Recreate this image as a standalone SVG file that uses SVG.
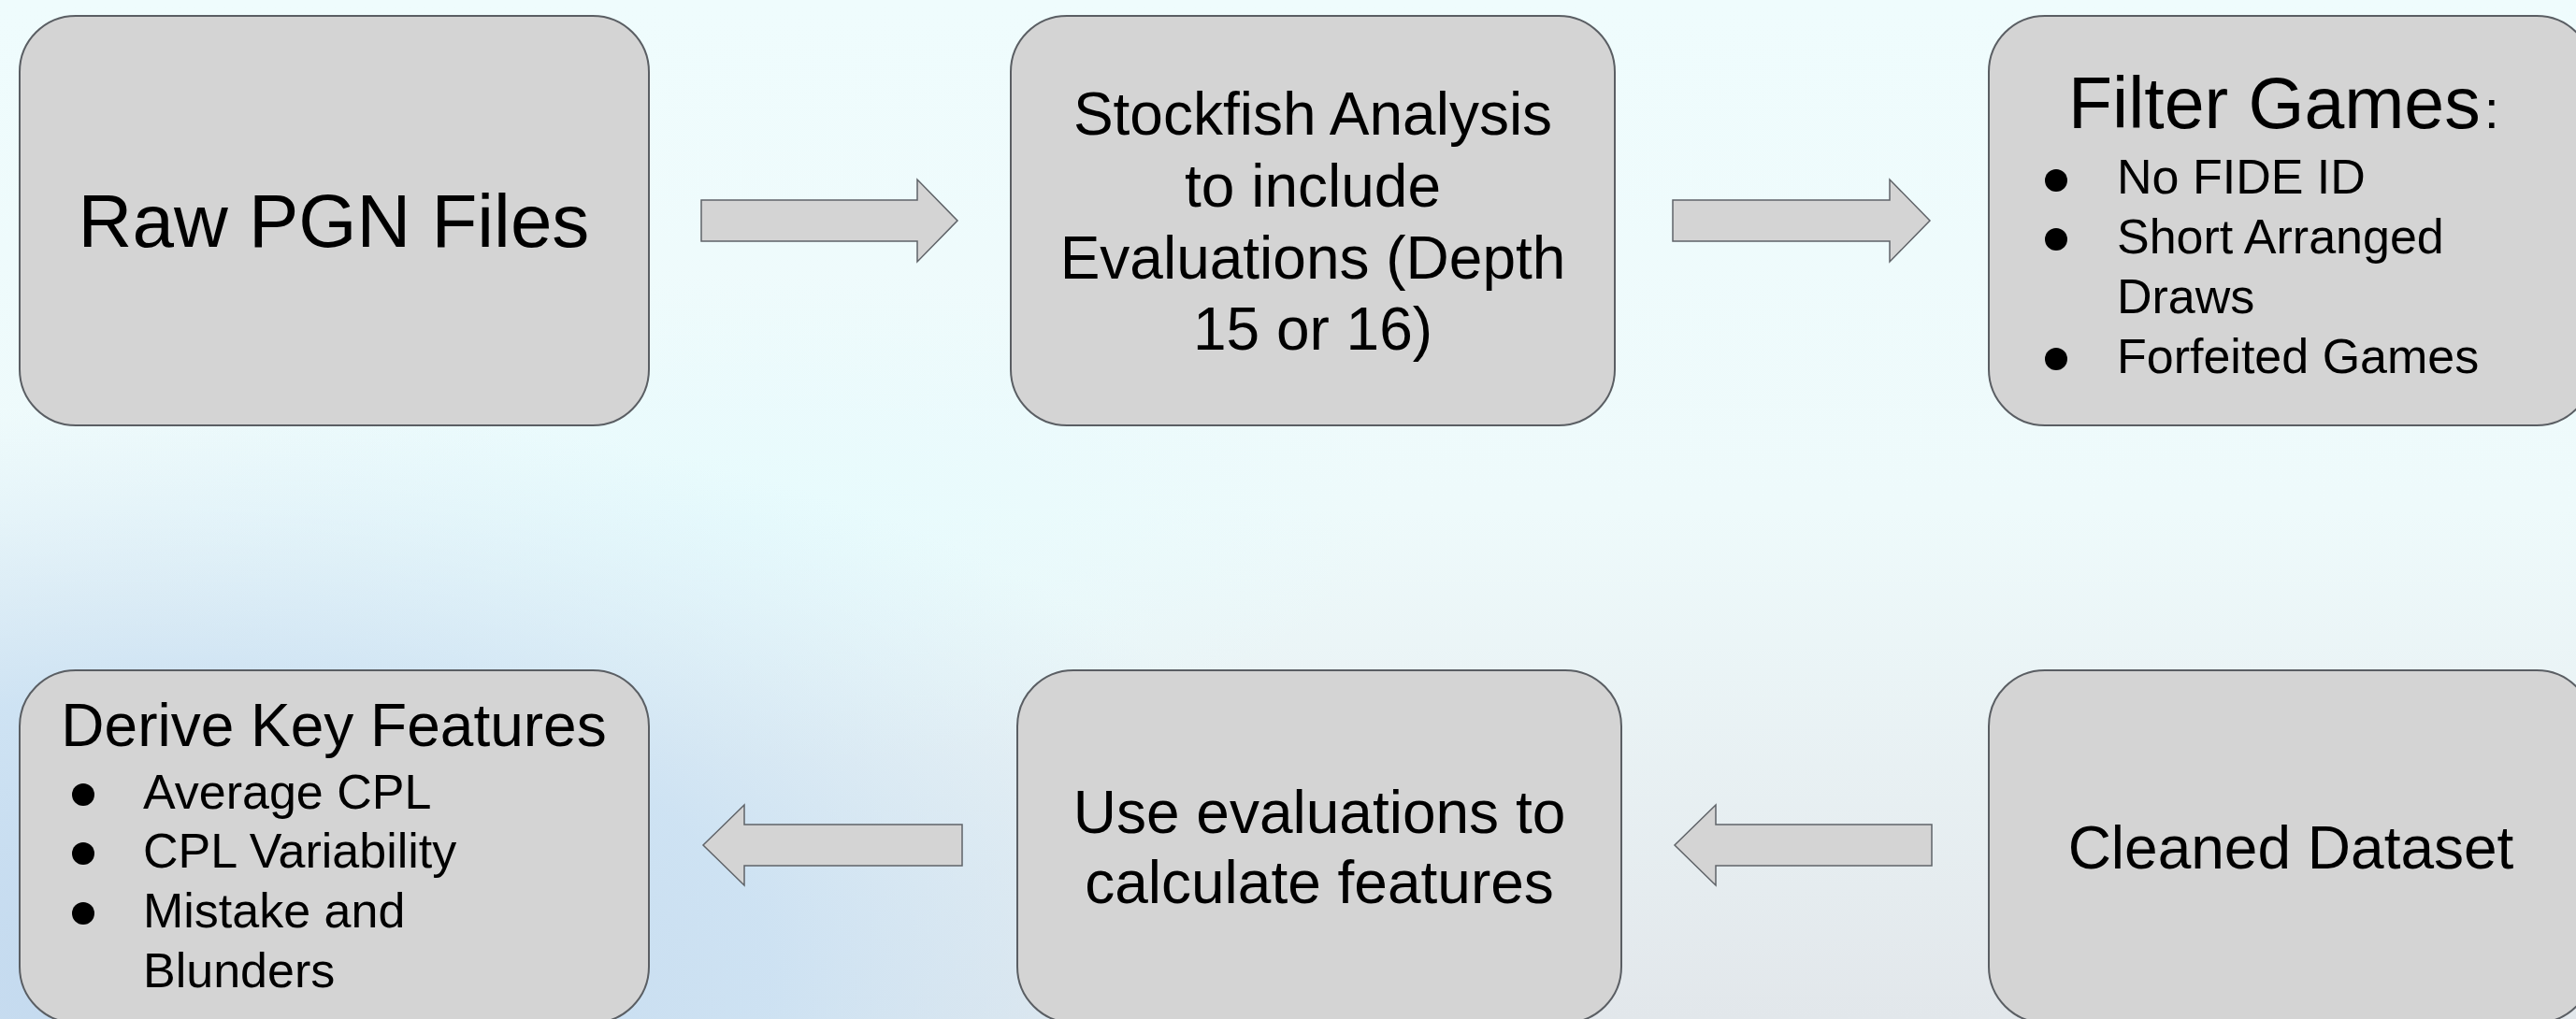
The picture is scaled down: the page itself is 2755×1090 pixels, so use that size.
<svg xmlns="http://www.w3.org/2000/svg" width="2755" height="1090" viewBox="0 0 2755 1090">
  <defs>
    <linearGradient id="bgv" x1="0" y1="0" x2="0" y2="1">
      <stop offset="0" stop-color="#effcfd"/>
      <stop offset="0.5" stop-color="#eefafb"/>
      <stop offset="1" stop-color="#e2e7eb"/>
    </linearGradient>
    <radialGradient id="blue" cx="0.5" cy="0.5" r="0.5">
      <stop offset="0" stop-color="#c2d8ee" stop-opacity="1"/>
      <stop offset="0.5" stop-color="#cbe1f3" stop-opacity="0.9"/>
      <stop offset="1" stop-color="#d8ebf6" stop-opacity="0"/>
    </radialGradient>
    <radialGradient id="cyan" cx="0.5" cy="0.5" r="0.5">
      <stop offset="0" stop-color="#e6fbfd" stop-opacity="0.9"/>
      <stop offset="1" stop-color="#e6fbfd" stop-opacity="0"/>
    </radialGradient>
    <style>
      .box { fill: #d4d4d4; stroke: #5a5e63; stroke-width: 2; }
      .arr { fill: #d4d4d4; stroke: #5f6368; stroke-width: 1.5; stroke-linejoin: miter; }
      text { font-family: "Liberation Sans", Arial, sans-serif; fill: #000000; }
      .c { text-anchor: middle; }
      .f80 { font-size: 80px; }
      .f78 { font-size: 77px; }
      .f64 { font-size: 64px; }
      .f53 { font-size: 52px; }
      .dot { fill: #000000; }
    </style>
  </defs>

  <g id="background">
    <rect x="0" y="0" width="2755" height="1090" fill="url(#bgv)"/>
    <ellipse cx="800" cy="560" rx="700" ry="260" fill="url(#cyan)"/>
    <ellipse cx="200" cy="1050" rx="1250" ry="620" fill="url(#blue)"/>
  </g>

  <g id="connectors">
    <polygon id="arrow-1" class="arr" points="750,214 981,214 981,192 1024,236 981,280 981,258 750,258"/>
    <polygon id="arrow-2" class="arr" points="1789,214 2021,214 2021,192 2064,236 2021,280 2021,258 1789,258"/>
    <polygon id="arrow-3" class="arr" points="2066,882 1835,882 1835,861 1791,904 1835,947 1835,926 2066,926"/>
    <polygon id="arrow-4" class="arr" points="1029,882 796,882 796,861 752,904 796,947 796,926 1029,926"/>
  </g>

  <g id="node-raw-pgn">
    <rect class="box" x="21" y="17" width="673" height="438" rx="60" ry="60"/>
    <text class="c f80" x="357" y="264">Raw PGN Files</text>
  </g>

  <g id="node-stockfish">
    <rect class="box" x="1081" y="17" width="646" height="438" rx="60" ry="60"/>
    <text class="c f64" x="1404" y="144">Stockfish Analysis</text>
    <text class="c f64" x="1404" y="221">to include</text>
    <text class="c f64" x="1404" y="298">Evaluations (Depth</text>
    <text class="c f64" x="1404" y="374">15 or 16)</text>
  </g>

  <g id="node-filter">
    <rect class="box" x="2127" y="17" width="646" height="438" rx="60" ry="60"/>
    <text class="f78" x="2212" y="137">Filter Games<tspan font-size="58px" dx="4">:</tspan></text>
    <circle class="dot" cx="2199" cy="193" r="12"/>
    <text class="f53" x="2264" y="207">No FIDE ID</text>
    <circle class="dot" cx="2199" cy="256" r="12"/>
    <text class="f53" x="2264" y="271">Short Arranged</text>
    <text class="f53" x="2264" y="335">Draws</text>
    <circle class="dot" cx="2199" cy="384" r="12"/>
    <text class="f53" x="2264" y="399">Forfeited Games</text>
  </g>

  <g id="node-derive">
    <rect class="box" x="21" y="717" width="673" height="377" rx="60" ry="60"/>
    <text class="c f64" x="357" y="798">Derive Key Features</text>
    <circle class="dot" cx="89" cy="850" r="12"/>
    <text class="f53" x="153" y="865">Average CPL</text>
    <circle class="dot" cx="89" cy="913" r="12"/>
    <text class="f53" x="153" y="928">CPL Variability</text>
    <circle class="dot" cx="89" cy="977" r="12"/>
    <text class="f53" x="153" y="992">Mistake and</text>
    <text class="f53" x="153" y="1056">Blunders</text>
  </g>

  <g id="node-use-evaluations">
    <rect class="box" x="1088" y="717" width="646" height="377" rx="60" ry="60"/>
    <text class="c f64" x="1411" y="891">Use evaluations to</text>
    <text class="c f64" x="1411" y="966">calculate features</text>
  </g>

  <g id="node-cleaned">
    <rect class="box" x="2127" y="717" width="646" height="377" rx="60" ry="60"/>
    <text class="c f64" x="2450" y="929">Cleaned Dataset</text>
  </g>
</svg>
